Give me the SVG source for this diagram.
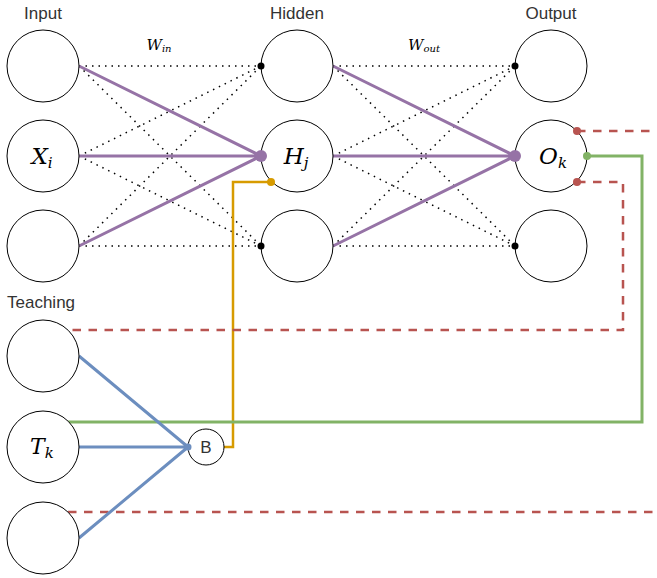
<svg xmlns="http://www.w3.org/2000/svg" width="657" height="578" viewBox="0 0 657 578">
<style>
.node{fill:#fff;stroke:#000;stroke-width:1}
.lbl{font-family:"Liberation Sans",Arial,sans-serif;font-size:17px;fill:#333}
.math{font-family:"DejaVu Serif","Liberation Serif",serif;font-style:italic;fill:#000}
.dot{fill:none;stroke:#000;stroke-width:1.5;stroke-dasharray:1.5 5}
.pur{fill:none;stroke:#9673A6;stroke-width:3}
.blu{fill:none;stroke:#6C8EBF;stroke-width:3}
.red{fill:none;stroke:#B85450;stroke-width:2.5;stroke-dasharray:8.5 7.5}
.grn{fill:none;stroke:#82B366;stroke-width:3}
.org{fill:none;stroke:#D79B00;stroke-width:2.5}
</style>
<rect width="657" height="578" fill="#fff"/>
<text class="lbl" x="43" y="19" text-anchor="middle">Input</text>
<text class="lbl" x="297" y="19" text-anchor="middle">Hidden</text>
<text class="lbl" x="551" y="19" text-anchor="middle">Output</text>
<text class="lbl" x="7" y="308">Teaching</text>
<text class="math" x="159" y="50" text-anchor="middle" font-size="15">W<tspan font-size="10" dy="2">in</tspan></text>
<text class="math" x="424" y="50" text-anchor="middle" font-size="15">W<tspan font-size="10" dy="2">out</tspan></text>
<g id="connectors">
<path class="dot" d="M79 66L261 66M79 66L261 156M79 66L261 246M79 156L261 66M79 156L261 156M79 156L261 246M79 246L261 66M79 246L261 156M79 246L261 246"/>
<path class="dot" d="M333 66L515 66M333 66L515 156M333 66L515 246M333 156L515 66M333 156L515 156M333 156L515 246M333 246L515 66M333 246L515 156M333 246L515 246"/>
<path class="pur" d="M79 66L261 156M79 156L261 156M79 246L261 156M333 66L515 156M333 156L515 156M333 246L515 156"/>
<path class="org" d="M224 447L233 447L233 182L271 182"/>
<path class="grn" d="M68 422L642 422L642 156L587 156"/>
<path class="red" d="M577 131L657 131"/>
<path class="red" d="M577 182L623 182L623 330L72 330"/>
<path class="red" d="M68 512L657 512"/>
<path class="blu" d="M79 356L188 447M79 447L188 447M79 538L188 447"/>
</g>
<g id="in1"><circle class="node" cx="43" cy="66" r="36"/></g>
<g id="in2"><circle class="node" cx="43" cy="156" r="36"/><text class="math" x="42" y="164" text-anchor="middle" font-size="23">X<tspan font-size="15" dy="4">i</tspan></text></g>
<g id="in3"><circle class="node" cx="43" cy="246" r="36"/></g>
<g id="hid1"><circle class="node" cx="297" cy="66" r="36"/></g>
<g id="hid2"><circle class="node" cx="297" cy="156" r="36"/><text class="math" x="296" y="164" text-anchor="middle" font-size="23">H<tspan font-size="15" dy="4">j</tspan></text></g>
<g id="hid3"><circle class="node" cx="297" cy="246" r="36"/></g>
<g id="out1"><circle class="node" cx="551" cy="66" r="36"/></g>
<g id="out2"><circle class="node" cx="551" cy="156" r="36"/><text class="math" x="553" y="164" text-anchor="middle" font-size="23">O<tspan font-size="15" dy="4">k</tspan></text></g>
<g id="out3"><circle class="node" cx="551" cy="246" r="36"/></g>
<g id="t1"><circle class="node" cx="43" cy="356" r="36"/></g>
<g id="t2"><circle class="node" cx="43" cy="447" r="36"/><text class="math" x="42" y="454" text-anchor="middle" font-size="22">T<tspan font-size="15" dy="4">k</tspan></text></g>
<g id="t3"><circle class="node" cx="43" cy="538" r="36"/></g>
<g id="B"><circle class="node" cx="206" cy="447" r="18"/><text class="lbl" x="206" y="453" text-anchor="middle" font-size="15" fill="#000">B</text></g>
<g id="connector-ends">
<circle cx="261" cy="66" r="3.5" fill="#000"/>
<circle cx="261" cy="246" r="3.5" fill="#000"/>
<circle cx="515" cy="66" r="3.5" fill="#000"/>
<circle cx="515" cy="246" r="3.5" fill="#000"/>
<circle cx="261" cy="156" r="6" fill="#9673A6"/>
<circle cx="515" cy="156" r="6" fill="#9673A6"/>
<circle cx="271" cy="182" r="4" fill="#D79B00"/>
<circle cx="587" cy="156" r="4" fill="#82B366"/>
<circle cx="577" cy="131" r="4" fill="#B85450"/>
<circle cx="577" cy="182" r="4" fill="#B85450"/>
<circle cx="188" cy="447" r="3.5" fill="#6C8EBF"/>
</g>
</svg>
